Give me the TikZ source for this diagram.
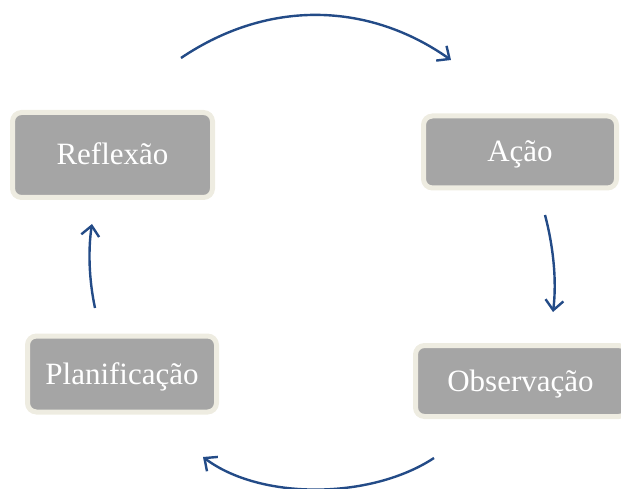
\documentclass[tikz,border=0pt]{standalone}
\usepackage{fontspec}
\setmainfont{Liberation Serif}
\usetikzlibrary{arrows.meta}
\definecolor{boxgray}{HTML}{A5A5A5}
\definecolor{boxrim}{HTML}{EEECE1}
\definecolor{arrowblue}{RGB}{35,75,135}
\begin{document}
\begin{tikzpicture}[x=1pt,y=-1pt,
  stagebox/.style={rectangle, rounded corners=9pt, fill=boxgray, draw=boxrim,
    line width=5pt, inner sep=0pt, text=white, text height=26pt, text depth=6pt,
    font=\fontsize{31}{37}\selectfont},
  cyclearrow/.style={draw=arrowblue, line width=2.4pt,
    -{Straight Barb[length=10pt,width=18pt,line width=2.4pt]}}]
\useasboundingbox (0,0) rectangle (621,489);
\node[stagebox, minimum width=200pt, minimum height=85pt] (refl) at (112.5,155) {Reflexão};
\node[stagebox, minimum width=193pt, minimum height=72pt] (acao) at (520,152) {Ação};
\node[stagebox, minimum width=212pt, minimum height=71pt] (obs) at (521.5,381) {\hspace*{-1pt}Observação\hspace*{1pt}};
\node[stagebox, minimum width=189pt, minimum height=76pt] (plan) at (122,374) {Planificação};
\coordinate (a1s) at (181,58);
\coordinate (a1e) at (451,60);
\coordinate (a2s) at (545,215);
\coordinate (a2e) at (553,312);
\coordinate (a3s) at (434,458);
\coordinate (a3e) at (203,457);
\coordinate (a4s) at (95,308);
\coordinate (a4e) at (92,224);
\draw[cyclearrow] (a1s) .. controls (270,-2) and (370,3) .. (a1e);
\draw[cyclearrow] (a2s) .. controls (553,245) and (557,280) .. (a2e);
\draw[cyclearrow] (a3s) .. controls (370,500) and (260,500) .. (a3e);
\draw[cyclearrow] (a4s) .. controls (89,280) and (88,250) .. (a4e);
\end{tikzpicture}
\end{document}
